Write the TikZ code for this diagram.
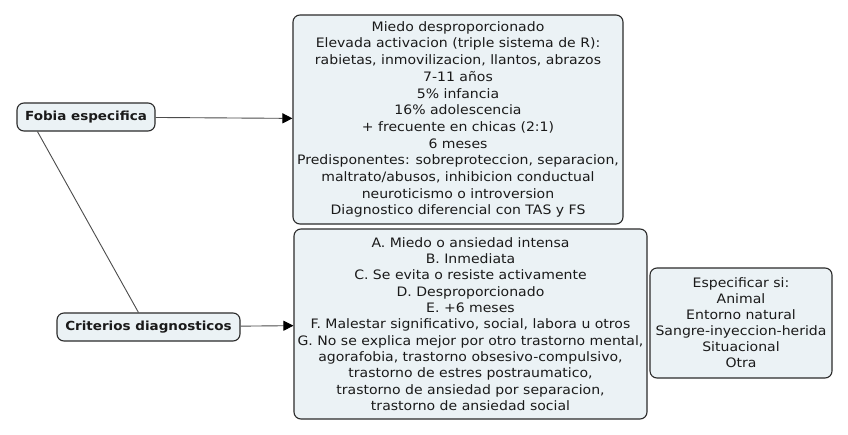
\documentclass[tikz,border=0pt]{standalone}
\usepackage{fontspec}
\setmainfont[FakeStretch=1.08]{DejaVu Sans}
\usetikzlibrary{arrows.meta}
\definecolor{boxfill}{HTML}{EBF2F5}
\definecolor{boxline}{HTML}{2B2B2B}
\definecolor{txt}{HTML}{1A1A1A}
\begin{document}
\begin{tikzpicture}[x=1pt,y=-1pt,
  box/.style={draw=boxline, line width=1.1pt, fill=boxfill, rounded corners=7pt,
    align=center, text=txt, inner sep=0pt, font=\fontsize{13}{16.3}\selectfont},
  concept/.style={box, font=\bfseries\fontsize{12.5}{15}\selectfont},
  link/.style={draw=black!70, line width=0.9pt},
  arrowlink/.style={link, -{Triangle[length=10pt,width=10pt,color=black]}}]
\useasboundingbox (0,0) rectangle (848,434);
\fill[white] (0,0) rectangle (848,434);
\node[box, minimum width=330pt, minimum height=209pt, font=\fontsize{13}{16.7}\selectfont] (b1) at (458,119.5) {Miedo desproporcionado\\
Elevada activacion (triple sistema de R):\\
rabietas, inmovilizacion, llantos, abrazos\\
7-11 años\\
5\% infancia\\
16\% adolescencia\\
+ frecuente en chicas (2:1)\\
6 meses\\
Predisponentes: sobreproteccion, separacion,\\
maltrato/abusos, inhibicion conductual\\
neuroticismo o introversion\\
Diagnostico diferencial con TAS y FS};
\node[box, minimum width=353pt, minimum height=190pt] (b2) at (470.5,324) {A. Miedo o ansiedad intensa\\
B. Inmediata\\
C. Se evita o resiste activamente\\
D. Desproporcionado\\
E. +6 meses\\
F. Malestar significativo, social, labora u otros\\
G. No se explica mejor por otro trastorno mental,\\
agorafobia, trastorno obsesivo-compulsivo,\\
trastorno de estres postraumatico,\\
trastorno de ansiedad por separacion,\\
trastorno de ansiedad social};
\node[box, minimum width=182pt, minimum height=110pt, font=\fontsize{13}{16}\selectfont] (b3) at (741,323) {Especificar si:\\
Animal\\
Entorno natural\\
Sangre-inyeccion-herida\\
Situacional\\
Otra};
\node[concept, minimum width=138pt, minimum height=28pt] (fobia) at (86,117) {Fobia especifica};
\node[concept, minimum width=183pt, minimum height=28pt] (crit) at (148.5,327) {Criterios diagnosticos};
\draw[arrowlink] (fobia) -- (b1);
\draw[arrowlink] (crit) -- (b2);
\draw[link] ([xshift=21pt]fobia.south west) -- ([xshift=82pt]crit.north west);
\end{tikzpicture}
\end{document}
